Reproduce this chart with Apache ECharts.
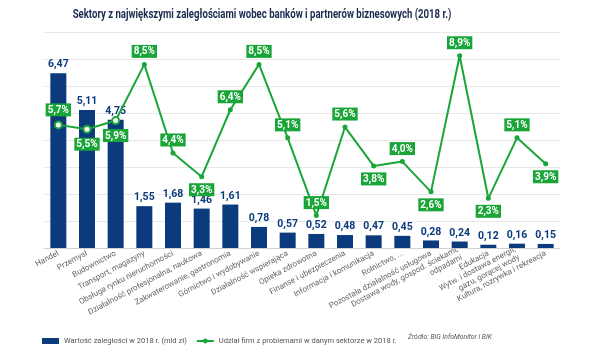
<!DOCTYPE html>
<html>
<head>
<meta charset="utf-8">
<script src="https://cdn.jsdelivr.net/npm/echarts@6/dist/echarts.min.js"></script>
<style>html,body{margin:0;padding:0;background:#fff}#c{width:600px;height:364px}</style>
</head>
<body>
<div id="c"></div>
<script>
var categories = ["Handel","Przemysł","Budownictwo","Transport, magazyny","Obsługa rynku nieruchomości","Działalność profesjonalna, naukowa","Zakwaterowanie, gastronomia","Górnictwo i wydobywanie","Działalność wspierająca","Opieka zdrowotna","Finanse i ubezpieczenia","Informacja i komunikacja","Rolnictwo, ...","Pozostała działalność usługowa","Dostawa wody, gospod. ściekami,\nodpadami","Edukacja","Wytw. i dostawa energii,\ngazu, gorącej wody","Kultura, rozrywka i rekreacja"];
var debtValues = [6.47,5.11,4.75,1.55,1.68,1.46,1.61,0.78,0.57,0.52,0.48,0.47,0.45,0.28,0.24,0.12,0.16,0.15];
var shareValues = [5.7,5.5,5.9,8.5,4.4,3.3,6.4,8.5,5.1,1.5,5.6,3.8,4.0,2.6,8.9,2.3,5.1,3.9];
var shareLabelPos = ["top","bottom","bottom","top","top","bottom","top","top","top","top","top","bottom","top","bottom","top","bottom","top","bottom"];
var barName = "Wartość zaległości w 2018 r. (mld zł)";
var lineName = "Udział firm z problemami w danym sektorze w 2018 r.";
var titleText = "Sektory z największymi zaległościami wobec banków i partnerów biznesowych (2018 r.)";
var sourceText = "Źródło: BIG InfoMonitor i BIK";
var navy = "#0b3a7d", green = "#1aa538";
var fontMain = "'Roboto',sans-serif";
function fmt(v, d){ return v.toFixed(d).replace('.', ','); }

var lineData = shareValues.map(function(v, i){
  var item = { value: v, label: { position: shareLabelPos[i] } };
  if (i < 3) {
    item.symbolSize = 7;
    item.itemStyle = { color: '#fff', borderColor: green, borderWidth: 2 };
  }
  return item;
});

var chart = echarts.init(document.getElementById('c'), null, {renderer: 'canvas'});
chart.setOption({
  animation: false,
  grid: { left: 44, right: 40, top: 32, bottom: 116 },
  legend: {
    left: 37, top: 332, itemWidth: 17, itemHeight: 6, itemGap: 9,
    textStyle: { fontFamily: fontMain, fontSize: 7.5, color: '#555' },
    data: [
      { name: barName, icon: 'rect' },
      { name: lineName }
    ]
  },
  graphic: [{
    type: 'text', x: 262, y: 15, scaleX: 0.8,
    style: { text: titleText, align: 'center', verticalAlign: 'middle', fontFamily: fontMain, fontWeight: 'bold', fontSize: 12, fill: '#1b2a4f' }
  }, {
    type: 'text', x: 408, y: 337, scaleX: 0.85,
    style: { text: sourceText, verticalAlign: 'middle', fontFamily: fontMain, fontStyle: 'italic', fontSize: 8, fill: '#555' }
  }],
  xAxis: {
    type: 'category', data: categories,
    axisTick: { show: false },
    axisLine: { lineStyle: { color: '#d0d0d0' } },
    axisLabel: { interval: 0, rotate: 28, fontFamily: fontMain, fontSize: 8, color: '#666', margin: 5, lineHeight: 9, align: 'right' }
  },
  yAxis: [
    { type: 'value', min: 0, max: 8, interval: 1, axisLabel: { show: false }, axisLine: { show: false }, axisTick: { show: false },
      splitLine: { lineStyle: { color: '#e8e8e8' } } },
    { type: 'value', min: 0, max: 10, interval: 1, show: false, splitLine: { show: false } }
  ],
  series: [
    {
      name: barName, type: 'bar', data: debtValues, barWidth: 16,
      itemStyle: { color: navy },
      label: { show: true, position: 'top', distance: 3, color: navy, fontFamily: fontMain, fontWeight: 'bold', fontSize: 10.5,
        formatter: function(p){ return fmt(p.value, 2); } }
    },
    {
      name: lineName, type: 'line', yAxisIndex: 1, data: lineData,
      symbol: 'circle', symbolSize: 5, clip: false,
      lineStyle: { color: green, width: 2 },
      itemStyle: { color: green },
      label: { show: true, distance: 4, backgroundColor: green, color: '#fff', fontFamily: fontMain, fontWeight: 'bold', fontSize: 10,
        padding: [2, 2, 1, 2],
        formatter: function(p){ return fmt(p.value, 1) + '%'; } }
    }
  ]
});
</script>
</body>
</html>
